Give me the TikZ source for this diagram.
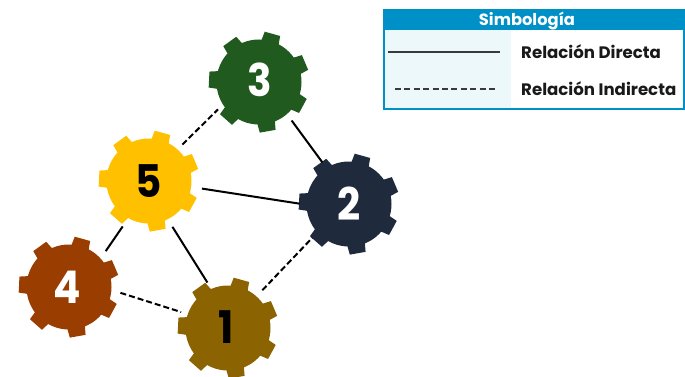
\documentclass[tikz,border=0pt]{standalone}
\usepackage{fontspec}
\setmainfont{Poppins}
\definecolor{cuno}{HTML}{8B6300}
\definecolor{cdos}{HTML}{1F2A3C}
\definecolor{ctres}{HTML}{215A1E}
\definecolor{ccuatro}{HTML}{993D00}
\definecolor{ccinco}{HTML}{FFC000}
\definecolor{legblue}{HTML}{0090C8}
\definecolor{legpale}{HTML}{EDF8FB}
\definecolor{legline}{HTML}{3A3A3A}
\tikzset{
  gearbody/.style={circle,inner sep=0pt,outer sep=0pt,minimum size=85pt,fill=#1},
  geardigit/.style={inner sep=0pt,xscale=0.9,font=\fontsize{45}{45}\selectfont\bfseries,text=#1},
  link/.style={line width=2pt,black,shorten >=8pt,shorten <=8pt},
  linkdash/.style={link,dash pattern=on 6pt off 3pt},
  legtext/.style={inner sep=0pt,anchor=west,font=\fontsize{16.6}{18}\selectfont\bfseries,text=black!90},
  legtitle/.style={inner sep=0pt,font=\fontsize{16.3}{18}\selectfont\bfseries,text=white},
}
\newcommand{\gearat}[6]{%
  \foreach \a in {23,74.4,125.8,177.2,228.6,280,331.4}{
    \fill[#4,shift={(#2)},rotate=\a] (40,-9) -- (50,-8) -- (50,8) -- (40,9) -- cycle;
  }
  \node[gearbody=#4] (#1) at (#2) {};
  \node[geardigit=#5] (#1n) at (#6) {#3};
}
\begin{document}
\begin{tikzpicture}[x=1pt,y=-1pt]
\useasboundingbox (0,0) rectangle (685,377);
\gearat{g3}{259,82}{3}{ctres}{white}{259.5,80}
\gearat{g5}{149,181}{5}{ccinco}{black}{148.5,181}
\gearat{g2}{349,204}{2}{cdos}{white}{349,203.5}
\gearat{g4}{69,287}{4}{ccuatro}{white}{67,287}
\gearat{g1}{228,328}{1}{cuno}{black}{226,327}
\draw[linkdash,shorten <=7pt,shorten >=7pt] (g5.48) -- (g3.212);
\draw[link,shorten <=8pt,shorten >=7pt] (g3.311) -- (g2.122);
\draw[link,shorten <=11pt,shorten >=7pt] (g5.-8.6) -- (g2.181);
\draw[link,shorten <=10pt,shorten >=9pt] (g5.241.5) -- (g4.42.6);
\draw[link,shorten <=9pt,shorten >=7.5pt] (g5.296.6) -- (g1.113.5);
\draw[linkdash,shorten <=9.5pt,shorten >=7pt] (g4.-4.4) -- (g1.161.2);
\draw[linkdash,shorten <=8.5pt,shorten >=7.5pt] (g1.48.2) -- (g2.222.6);
% legend
\fill[legpale] (384,30) rectangle (511,109);
\fill[legblue] (383,9) rectangle (685,30);
\draw[legblue,line width=1.5pt] (384,10) rectangle (684.2,109);
\node[legtitle] (ltitle) at (527,21) {Simbología};
\coordinate (sa) at (388,52);
\coordinate (sb) at (500,52);
\coordinate (da) at (395,89);
\coordinate (db) at (498,89);
\draw[legline,line width=1.3pt] (sa) -- (sb);
\draw[legline,line width=1.5pt,dash pattern=on 6pt off 3.4pt] (da) -- (db);
\node[legtext] (ld) at (521,52) {Relación Directa};
\node[legtext] (li) at (521,89) {Relación Indirecta};
\end{tikzpicture}
\end{document}
